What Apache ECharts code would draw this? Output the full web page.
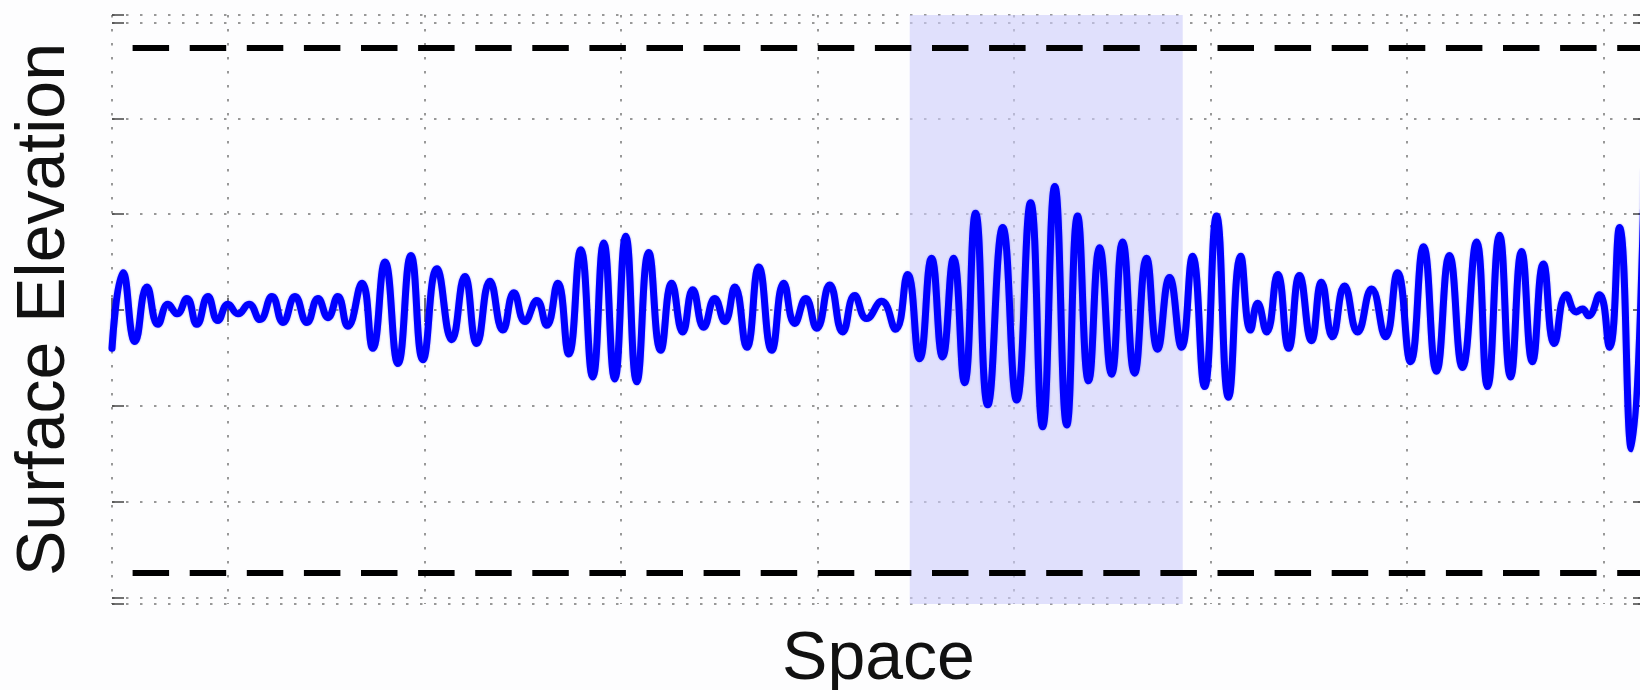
<!DOCTYPE html>
<html>
<head>
<meta charset="utf-8">
<script src="https://cdn.jsdelivr.net/npm/echarts@6/dist/echarts.min.js"></script>
<style>
html, body { margin: 0; padding: 0; background: #fdfdfe; overflow: hidden; }
#chart { width: 1700px; height: 690px; }
</style>
</head>
<body>
<div id="chart"></div>
<script>
// Position along the x axis (grid lines at integers) of each crest / trough of the wave record
const spaceX = [
  0.410, 0.466, 0.527, 0.588, 0.644, 0.695, 0.741, 0.791, 0.842, 0.898,
  0.949, 1.000, 1.051, 1.107, 1.163, 1.224, 1.280, 1.341, 1.402, 1.458,
  1.509, 1.559, 1.610, 1.682, 1.737, 1.799, 1.865, 1.931, 1.992, 2.063,
  2.139, 2.205, 2.266, 2.333, 2.399, 2.455, 2.511, 2.572, 2.622, 2.678,
  2.734, 2.795, 2.856, 2.912, 2.968, 3.024, 3.080, 3.141, 3.202, 3.258,
  3.314, 3.365, 3.421, 3.477, 3.528, 3.579, 3.640, 3.701, 3.767, 3.828,
  3.884, 3.940, 3.996, 4.062, 4.128, 4.189, 4.250, 4.326, 4.397, 4.458,
  4.519, 4.580, 4.636, 4.692, 4.748, 4.804, 4.866, 4.942, 5.013, 5.084,
  5.145, 5.207, 5.268, 5.323, 5.379, 5.435, 5.496, 5.552, 5.613, 5.674,
  5.730, 5.791, 5.852, 5.908, 5.969, 6.030, 6.091, 6.153, 6.203, 6.239,
  6.285, 6.341, 6.397, 6.452, 6.513, 6.564, 6.620, 6.681, 6.748, 6.819,
  6.890, 6.951, 7.017, 7.083, 7.149, 7.215, 7.281, 7.353, 7.409, 7.470,
  7.526, 7.582, 7.637, 7.693, 7.749, 7.810, 7.861, 7.892, 7.922, 7.978,
  8.029, 8.080, 8.141, 8.207
];
// Surface elevation at those positions
const elevation = [
  -0.40, 0.39, -0.33, 0.24, -0.15, 0.06, -0.04, 0.12, -0.15, 0.14,
  -0.11, 0.06, -0.04, 0.06, -0.10, 0.14, -0.13, 0.14, -0.13, 0.12,
  -0.08, 0.14, -0.17, 0.28, -0.40, 0.50, -0.56, 0.57, -0.52, 0.43,
  -0.31, 0.35, -0.35, 0.30, -0.21, 0.18, -0.12, 0.10, -0.16, 0.28,
  -0.46, 0.63, -0.70, 0.70, -0.72, 0.77, -0.75, 0.60, -0.42, 0.28,
  -0.23, 0.21, -0.18, 0.12, -0.12, 0.24, -0.39, 0.45, -0.42, 0.28,
  -0.14, 0.12, -0.19, 0.26, -0.23, 0.15, -0.09, 0.09, -0.20, 0.37,
  -0.51, 0.54, -0.49, 0.54, -0.76, 1.01, -0.99, 0.86, -0.94, 1.12,
  -1.22, 1.29, -1.20, 0.98, -0.74, 0.65, -0.67, 0.71, -0.66, 0.54,
  -0.41, 0.34, -0.39, 0.56, -0.80, 0.98, -0.91, 0.56, -0.21, 0.07,
  -0.23, 0.37, -0.40, 0.36, -0.32, 0.29, -0.28, 0.25, -0.23, 0.22,
  -0.28, 0.39, -0.54, 0.66, -0.64, 0.57, -0.60, 0.71, -0.80, 0.78,
  -0.70, 0.61, -0.54, 0.48, -0.35, 0.16, -0.02, 0.01, -0.06, 0.16,
  -0.39, 0.86, -1.45, 1.45
];
const xRange = [0.41, 8.21];
const yRange = [-3.07, 3.08];
const limitLevels = [2.74, -2.74];
const shadedSpan = [4.469, 5.858];
const xLabel = 'Space';
const yLabel = 'Surface Elevation';

const chart = echarts.init(document.getElementById('chart'), null, { renderer: 'canvas' });

const gridDots = { show: true, lineStyle: { color: '#777', width: 1.5, type: [2.5, 11.5] } };
const ticks = { show: true, inside: true, length: 12, lineStyle: { color: '#444', width: 1.5 } };
const nameFont = { fontFamily: 'Liberation Sans, Arial, sans-serif', fontSize: 68, color: '#111' };

function xAxisDef(pos, withName) {
  return {
    type: 'value', position: pos, gridIndex: 0,
    min: xRange[0], max: xRange[1], minInterval: 1, maxInterval: 1,
    axisLine: { show: false }, axisLabel: { show: false },
    axisTick: ticks,
    splitLine: withName ? gridDots : { show: false },
    name: withName ? xLabel : '', nameLocation: 'middle', nameGap: 22,
    nameTextStyle: nameFont
  };
}
function yAxisDef(pos, withName) {
  return {
    type: 'value', position: pos, gridIndex: 0,
    min: yRange[0], max: yRange[1], minInterval: 1, maxInterval: 1,
    axisLine: { show: false }, axisLabel: { show: false },
    axisTick: ticks,
    splitLine: withName ? gridDots : { show: false },
    name: withName ? yLabel : '', nameLocation: 'middle', nameGap: 33, nameRotate: 90,
    nameTextStyle: nameFont
  };
}

chart.setOption({
  backgroundColor: '#fdfdfe',
  animation: false,
  grid: { left: 112, top: 15, width: 1533, height: 589, containLabel: false, outerBoundsMode: 'none' },
  xAxis: [xAxisDef('bottom', true), xAxisDef('top', false)],
  yAxis: [yAxisDef('left', true), yAxisDef('right', false)],
  series: [
    {
      type: 'line', data: [], silent: true, clip: false, z: 1,
      markArea: {
        silent: true,
        itemStyle: { color: 'rgba(205,205,250,0.6)' },
        data: [[{ xAxis: shadedSpan[0] }, { xAxis: shadedSpan[1] }]]
      }
    },
    {
      type: 'line', data: [], silent: true, z: 3,
      markLine: {
        silent: true, symbol: 'none', label: { show: false },
        lineStyle: { color: '#000', width: 6, type: [36.5, 20.6], dashOffset: 36.5, opacity: 1 },
        data: limitLevels.map(v => ({ yAxis: v }))
      }
    },
    {
      type: 'line', z: 4,
      data: spaceX.map((x, i) => [x, elevation[i]]),
      showSymbol: false, smooth: 0.5,
      lineStyle: { color: '#0000ff', width: 7, cap: 'round', join: 'round',
                   shadowBlur: 2, shadowColor: 'rgba(0,0,255,0.4)' }
    }
  ]
});
</script>
</body>
</html>
